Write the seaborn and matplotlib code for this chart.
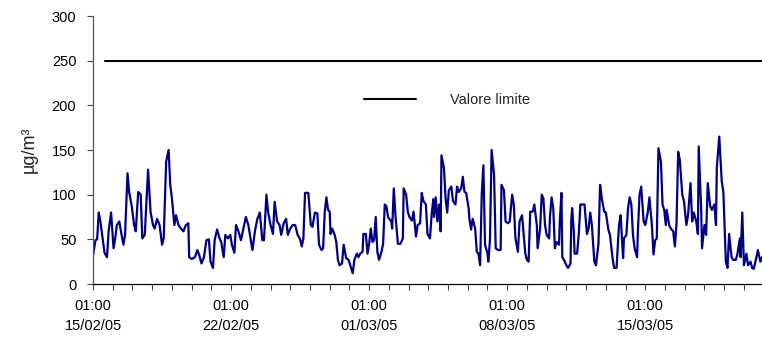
import numpy as np
import pandas as pd
import matplotlib
matplotlib.use("Agg")
import matplotlib.pyplot as plt
import matplotlib.dates as mdates
import seaborn as sns

# ---- data (hours after 15/02/05 01:00, concentration in µg/m³) ----
hours_a = [0, 3, 5, 7, 9, 11, 14, 17, 19, 22, 25, 27, 29, 32, 34, 37, 39, 42, 44, 47,
           50, 52, 55, 58, 60, 63, 67, 70, 73, 75, 78, 81, 84, 86, 89, 92, 94, 96, 99, 101,
           104, 107, 110, 113, 116, 117, 120, 124, 127, 129, 132, 135, 138, 141, 143, 146, 148, 151, 154, 156,
           159, 161, 164, 167, 169, 172, 174, 177, 180, 183, 186, 189, 191, 194, 197, 200, 203, 206, 208, 211,
           213, 216, 219, 221, 224, 227, 229, 232, 235, 237, 240, 243, 246, 249, 252, 254, 256, 258, 262, 265,
           267, 270]
vals_a = [32, 49, 50, 80, 70, 56, 35, 30, 59, 80, 40, 51, 66, 70, 59, 44, 55, 124, 103, 88,
          66, 59, 103, 100, 51, 55, 128, 81, 66, 62, 73, 66, 44, 51, 137, 150, 111, 96, 66, 77,
          66, 62, 59, 66, 68, 30, 28, 30, 38, 33, 23, 30, 49, 50, 25, 18, 49, 61, 51, 47,
          30, 55, 51, 55, 44, 35, 66, 59, 49, 62, 75, 66, 55, 38, 59, 73, 80, 49, 49, 100,
          81, 66, 56, 92, 70, 66, 55, 68, 73, 55, 62, 66, 66, 55, 50, 42, 51, 102, 102, 66,
          64, 80]

hours_b = [273, 275, 278, 280, 282, 284, 286, 288, 289, 291, 294, 296, 298, 300, 303, 305, 308, 311, 313, 316,
           318, 321, 323, 325, 328, 329, 332, 334, 336, 338, 340, 342, 344, 346, 348, 351, 353, 355, 357, 359,
           363, 364, 366, 368, 371, 374, 377, 378, 381, 383, 385, 388, 390, 393, 395, 398, 400, 402, 405, 407,
           410, 412, 414, 415, 417, 419, 421, 423, 424, 427, 429, 431, 433, 436, 438, 441, 443, 445, 448, 450,
           452, 454, 457, 458, 460, 462, 465, 467, 469, 471, 473, 475, 477, 480, 481, 483, 485, 488, 490, 493,
           496, 497, 500, 502, 505, 507, 510, 512, 514, 517, 519, 522, 524, 526, 528, 530, 532, 535, 537, 540,
           541]
vals_b = [79, 44, 38, 40, 81, 97, 83, 81, 56, 62, 55, 47, 27, 21, 23, 44, 29, 27, 21, 12,
          27, 34, 30, 34, 36, 56, 56, 34, 45, 62, 47, 49, 75, 36, 27, 36, 45, 89, 87, 75,
          70, 62, 107, 77, 45, 45, 51, 107, 100, 81, 75, 71, 81, 53, 66, 68, 102, 93, 89, 56,
          51, 77, 95, 75, 97, 70, 89, 59, 144, 130, 96, 80, 105, 109, 93, 89, 109, 103, 107, 120,
          103, 102, 85, 73, 61, 73, 62, 36, 34, 21, 100, 133, 44, 34, 25, 49, 150, 122, 40, 38,
          38, 111, 105, 70, 68, 70, 100, 89, 51, 36, 70, 77, 55, 34, 27, 25, 81, 81, 89, 66,
          40]

hours_c = [544, 546, 548, 550, 552, 555, 556, 558, 560, 562, 564, 567, 568, 570, 571, 573, 576, 578, 581, 582,
           583, 585, 586, 589, 591, 593, 595, 598, 601, 603, 605, 607, 610, 612, 615, 617, 619, 622, 624, 627,
           629, 632, 634, 637, 638, 640, 642, 645, 646, 649, 651, 653, 655, 657, 659, 662, 663, 665, 667, 670,
           672, 675, 677, 680, 682, 684, 686, 688, 691, 693, 695, 697, 698, 701, 703, 706, 708, 710, 712, 714,
           717, 719, 722, 724, 727, 729, 731, 734, 736, 737, 740, 741, 744, 746, 748, 751, 753, 756, 758, 759,
           762, 765, 767, 770, 772, 774, 777, 779, 782, 784, 787, 788, 790, 792, 795, 797, 800, 802, 804, 807,
           809, 812, 814]
vals_c = [62, 100, 96, 66, 55, 51, 75, 97, 85, 40, 47, 44, 70, 102, 30, 27, 21, 18, 23, 73,
          85, 59, 34, 34, 55, 89, 89, 89, 56, 62, 80, 66, 25, 21, 45, 111, 96, 81, 80, 61,
          55, 30, 18, 18, 34, 66, 77, 29, 51, 55, 85, 97, 89, 55, 40, 30, 59, 100, 109, 70,
          66, 80, 97, 66, 33, 49, 51, 152, 137, 89, 83, 66, 83, 66, 62, 59, 42, 68, 148, 139,
          100, 93, 66, 77, 113, 70, 80, 70, 56, 154, 83, 40, 66, 55, 113, 87, 83, 89, 66, 130,
          165, 115, 103, 25, 18, 56, 30, 27, 27, 33, 51, 30, 80, 21, 34, 21, 25, 18, 17, 29,
          38, 25, 30]

limit_hours = [15, 814]
limit_vals = [250, 250]
limit_label = "Valore limite"

yticks = [0, 50, 100, 150, 200, 250, 300]
ylabel = "µg/m³"
start = pd.Timestamp("2005-02-15 01:00")

# ---- build frames ----
hours = hours_a + hours_b + hours_c
vals = vals_a + vals_b + vals_c
df = pd.DataFrame({"time": start + pd.to_timedelta(hours, unit="h"), "value": vals})
lim = pd.DataFrame({"time": start + pd.to_timedelta(limit_hours, unit="h"), "value": limit_vals})

sns.set_style("white")
plt.rcParams["font.family"] = ["Liberation Sans", "DejaVu Sans"]

fig = plt.figure(figsize=(7.62, 3.41), dpi=100)
ax = fig.add_axes([93 / 762, 1 - 284 / 341, (762 - 93) / 762, (284 - 16) / 341])

sns.lineplot(data=df, x="time", y="value", color="#000080", linewidth=1.6, ax=ax, legend=False)
sns.lineplot(data=lim, x="time", y="value", color="black", linewidth=1.5, ax=ax,
             label=limit_label)

ax.set_xlim(start, start + pd.Timedelta(hours=814))
ax.set_ylim(0, 300)
ax.set_yticks(yticks)
ax.set_yticklabels([str(t) for t in yticks])

ax.set_xticks(pd.date_range(start, periods=5, freq="7D"))
ax.set_xticks(pd.date_range(start, periods=34, freq="1D"), minor=True)
ax.xaxis.set_major_formatter(mdates.DateFormatter("%H:%M\n%d/%m/%y"))

ax.tick_params(axis="both", which="both", direction="out", length=4, width=0.8,
               color="#444444", labelsize=10.5, labelcolor="black", bottom=True, left=True)
ax.tick_params(axis="x", which="major", pad=7)
ax.tick_params(axis="y", pad=8)
for lab in ax.get_xticklabels():
    lab.set_linespacing(1.55)

ax.set_xlabel("")
ax.set_ylabel(ylabel, fontsize=13, labelpad=10)

sns.despine(ax=ax, top=True, right=True)
ax.spines["left"].set_color("#555555")
ax.spines["bottom"].set_color("black")
ax.spines["left"].set_linewidth(0.9)
ax.spines["bottom"].set_linewidth(0.9)

ax.legend(loc="center left", bbox_to_anchor=(0.385, 0.687), frameon=False,
          fontsize=10.5, handlelength=3.6, handletextpad=2.3)

fig.savefig("out.png", dpi=100)
